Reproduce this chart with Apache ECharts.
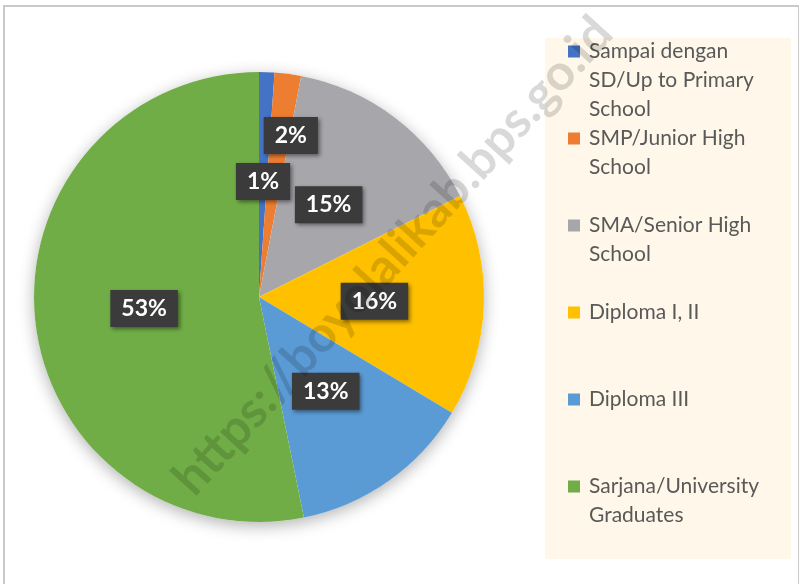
<!DOCTYPE html>
<html>
<head>
<meta charset="utf-8">
<script src="https://cdn.jsdelivr.net/npm/echarts@6/dist/echarts.min.js"></script>
<style>
  html, body { margin: 0; padding: 0; background: #fff; }
  #chart { position: absolute; left: 0; top: 0; width: 799px; height: 584px; }
  #frame { position: absolute; left: 3px; top: 5px; width: 793px; height: 600px;
           border-left: 2px solid #c9c9c9; border-top: 2px solid #c9c9c9; border-right: 2px solid #c9c9c9;
           pointer-events: none; }
</style>
</head>
<body>
<div id="chart"></div>
<div id="frame"></div>
<script>
const categories = [
  'Sampai dengan SD/Up to Primary School',
  'SMP/Junior High School',
  'SMA/Senior High School',
  'Diploma I, II',
  'Diploma III',
  'Sarjana/University Graduates'
];
const legendLines = [
  ['Sampai dengan', 'SD/Up to Primary', 'School'],
  ['SMP/Junior High', 'School'],
  ['SMA/Senior High', 'School'],
  ['Diploma I, II'],
  ['Diploma III'],
  ['Sarjana/University', 'Graduates']
];
const values = [1.1, 1.9, 14.6, 16.0, 13.2, 53.2];
const colors = ['#4472C4', '#ED7D31', '#A7A7AB', '#FFC000', '#5B9BD5', '#70AD47'];
const watermark = 'https://boyolalikab.bps.go.id';

const FONT = 'Lato, "Noto Sans", sans-serif';

const chart = echarts.init(document.getElementById('chart'), null, { renderer: 'canvas' });

function legendText(name) {
  const i = categories.indexOf(name);
  const lines = ['', ''].concat(legendLines[i]);
  while (lines.length < 5) lines.push('');
  return lines.join('\n');
}

const option = {
  animation: false,
  backgroundColor: '#ffffff',
  graphic: [
    {
      type: 'rect', z: 0, silent: true,
      shape: { x: 545, y: 38, width: 246, height: 521 },
      style: { fill: '#FEF7EA' }
    },
    {
      type: 'text', z: 100, silent: true,
      x: 393, y: 256, rotation: 47.7 * Math.PI / 180,
      style: {
        text: watermark, font: 'bold 50px ' + FONT,
        fill: 'rgba(0,0,0,0.15)', align: 'center', verticalAlign: 'middle'
      }
    }
  ],
  legend: {
    data: categories,
    orient: 'vertical',
    left: 568,
    top: -21,
    height: 640,
    padding: 0,
    itemGap: -58,
    itemWidth: 12,
    itemHeight: 12,
    icon: 'rect',
    selectedMode: false,
    formatter: legendText,
    textStyle: {
      fontFamily: FONT, fontSize: 21, lineHeight: 29, color: '#595959',
      padding: [0, 0, 0, 4]
    },
    z: 5
  },
  series: [
    {
      type: 'pie',
      name: 'shadow',
      silent: true,
      z: 1,
      center: [259, 297],
      radius: 225,
      label: { show: false },
      labelLine: { show: false },
      data: [{ value: 1, name: '', itemStyle: { color: '#ffffff', shadowBlur: 16, shadowColor: 'rgba(0,0,0,0.3)', shadowOffsetY: 4 } }]
    },
    {
      type: 'pie',
      z: 2,
      center: [259, 297],
      radius: 225,
      startAngle: 90,
      clockwise: true,
      percentPrecision: 0,
      avoidLabelOverlap: false,
      emphasis: { disabled: true },
      itemStyle: { borderWidth: 0 },
      labelLine: { show: false },
      label: {
        show: true,
        position: 'inside',
        formatter: '{d}%',
        fontFamily: FONT,
        fontWeight: 'bold',
        fontSize: 23,
        color: '#ffffff',
        backgroundColor: '#3b3b3b',
        padding: [8, 11, 6, 11],
        shadowBlur: 4,
        shadowColor: 'rgba(0,0,0,0.45)',
        shadowOffsetX: 2,
        shadowOffsetY: 2
      },
      labelLayout: function (params) {
        if (params.dataIndex === 1) {
          return { dx: 17, dy: -47 };
        }
        return {};
      },
      data: categories.map((c, i) => ({ name: c, value: values[i], itemStyle: { color: colors[i] } }))
    }
  ]
};

chart.setOption(option);
</script>
</body>
</html>
